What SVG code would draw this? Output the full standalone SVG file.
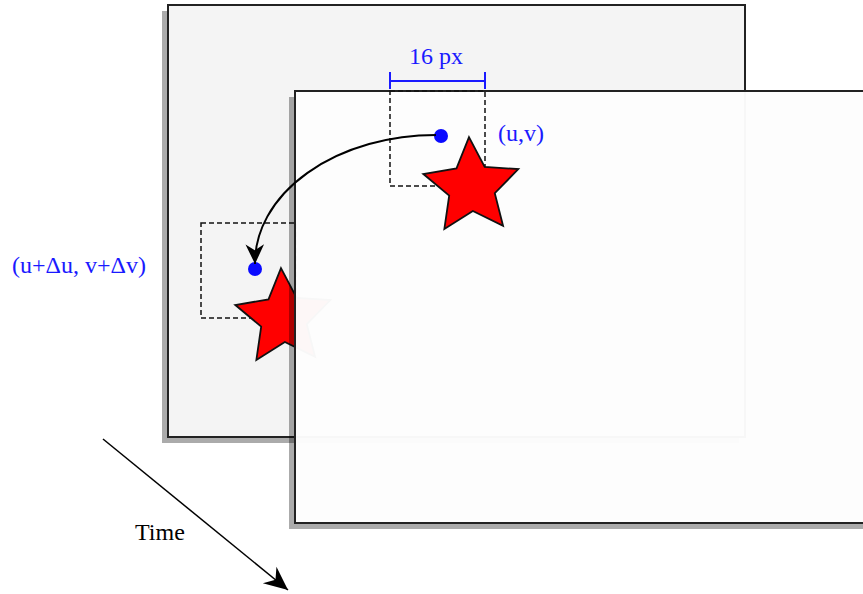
<svg xmlns="http://www.w3.org/2000/svg" width="863" height="594" viewBox="0 0 863 594">
<defs>
<style>
.shadow{fill:#000;fill-opacity:0.33}
.frame{stroke:#222;stroke-width:2}
.box{fill:none;stroke:#111;stroke-width:1.5;stroke-dasharray:5,3}
.star{fill:#ff0000;stroke:#111;stroke-width:1.8;stroke-linejoin:miter}
.dot{fill:#0a0aff}
.lbl{font-family:"Liberation Serif","Times New Roman",serif;font-size:24px}
.blue{fill:#1a1aff}
.conn{fill:none;stroke:#000}
</style>
<polygon id="starShape" points="0,-50 14.11,-19.42 47.55,-15.45 22.83,7.42 29.39,40.45 0,24 -29.39,40.45 -22.83,7.42 -47.55,-15.45 -14.11,-19.42"/>
<marker id="arrow" markerUnits="userSpaceOnUse" markerWidth="24" markerHeight="24" viewBox="-20 -10 22 20" refX="0" refY="0" orient="auto">
<path d="M0,0 L-18,-8.5 L-12.5,0 L-18,8.5 Z" fill="#000"/>
</marker>
<marker id="arrowBig" markerUnits="userSpaceOnUse" markerWidth="28" markerHeight="28" viewBox="-24 -12 26 24" refX="0" refY="0" orient="auto">
<path d="M0,0 L-22,-10 L-15,0 L-22,10 Z" fill="#000"/>
</marker>
</defs>

<g id="frame-back">
<path class="shadow" d="M162,11 H168 V437 H739 V443 H162 Z"/>
<rect class="frame" x="168" y="5" width="577" height="432" fill="#f4f4f4"/>
<rect class="box" x="201" y="223" width="95" height="95"/>
<use href="#starShape" class="star" transform="translate(283.6,318) rotate(-3)"/>
<circle class="dot" cx="255" cy="269" r="7"/>
</g>

<g id="frame-front">
<path class="shadow" d="M289,97 H295 V523 H866 V529 H289 Z"/>
<rect class="frame" x="295" y="91" width="577" height="432" fill="#fdfdfd" fill-opacity="0.975"/>
<rect class="box" x="390" y="91" width="95" height="95"/>
<use href="#starShape" class="star" transform="translate(471.6,187) rotate(-3)"/>
<circle class="dot" cx="441" cy="136" r="7"/>
</g>

<g id="measure">
<path d="M390,81 H485 M390,72 V89 M485,72 V89" stroke="#1a1aff" stroke-width="2" fill="none"/>
<text class="lbl blue" x="436" y="64" text-anchor="middle">16 px</text>
</g>

<g id="labels">
<text class="lbl blue" x="498" y="141">(u,v)</text>
<text class="lbl blue" x="12" y="273">(u+Δu, v+Δv)</text>
<text class="lbl" x="135" y="540" fill="#000">Time</text>
</g>

<g id="connectors">
<path class="conn" stroke-width="2" d="M436,135 A181,128 0 0 0 255,264" marker-end="url(#arrow)"/>
<path class="conn" stroke-width="1.5" d="M103,439 L288,590" marker-end="url(#arrowBig)"/>
</g>
</svg>
